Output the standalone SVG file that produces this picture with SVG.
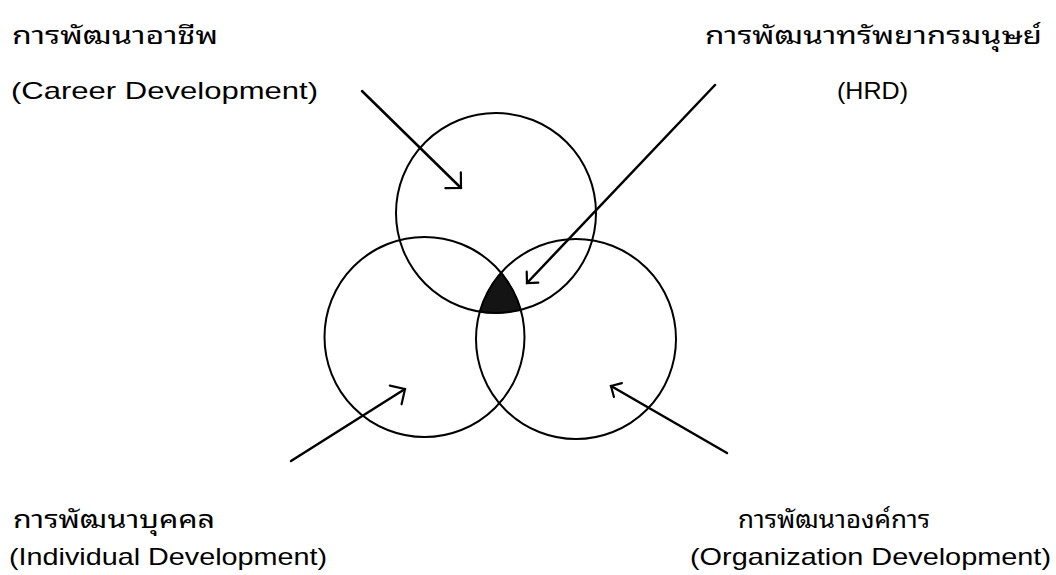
<svg xmlns="http://www.w3.org/2000/svg" width="1056" height="575" viewBox="0 0 1056 575">
  <style>
    .circle { fill: none; stroke: #000; stroke-width: 2; }
    .conn { stroke: #000; stroke-width: 2.5; fill: none; stroke-linecap: round; }
    .th { font-family: "Liberation Sans", "Noto Sans Thai Looped", "Loma", "Garuda", "Noto Sans Thai", "Noto Sans", sans-serif; font-size: 24px; fill: #000; }
    .en { font-family: "Liberation Sans", Arial, sans-serif; font-size: 24px; fill: #000; }
  </style>
  <defs>
    <marker id="headBig" markerUnits="userSpaceOnUse" viewBox="-14 -14 16 28" refX="0" refY="0" markerWidth="16" markerHeight="28" orient="auto" overflow="visible">
      <path d="M-11,-11 L0,0 L-11,11" fill="none" stroke="#000" stroke-width="2.2" stroke-linecap="round" stroke-linejoin="miter"/>
    </marker>
    <marker id="headSmall" markerUnits="userSpaceOnUse" viewBox="-12 -12 14 24" refX="0" refY="0" markerWidth="14" markerHeight="24" orient="auto" overflow="visible">
      <path d="M-8,-8 L0,0 L-8,8" fill="none" stroke="#000" stroke-width="2.2" stroke-linecap="round" stroke-linejoin="miter"/>
    </marker>
  </defs>
  <rect width="1056" height="575" fill="#fff"/>

  <g id="hrd-core">
    <path d="M501.1,272.7 A100,100 0 0 1 520.8,309.9 A100,100 0 0 1 479.8,311.7 A100,100 0 0 1 501.1,272.7 Z" fill="#141414" stroke="#000" stroke-width="1"/>
  </g>
  <g id="career-circle">
    <circle class="circle" cx="496" cy="213" r="100"/>
  </g>
  <g id="individual-circle">
    <circle class="circle" cx="424.5" cy="337" r="100"/>
  </g>
  <g id="organization-circle">
    <circle class="circle" cx="576" cy="339" r="100"/>
  </g>

  <g id="connectors">
    <line class="conn" x1="362" y1="91" x2="461" y2="188" marker-end="url(#headBig)"/>
    <line class="conn" x1="715" y1="85" x2="527" y2="283" marker-end="url(#headSmall)"/>
    <line class="conn" x1="291" y1="461" x2="405" y2="389" marker-end="url(#headBig)"/>
    <line class="conn" x1="727" y1="453" x2="611" y2="386" marker-end="url(#headSmall)"/>
  </g>

  <g id="label-career">
    <text class="th" x="12" y="44" textLength="206" lengthAdjust="spacingAndGlyphs">การพัฒนาอาชีพ</text>
    <text class="en" x="11" y="99" textLength="307" lengthAdjust="spacingAndGlyphs">(Career Development)</text>
  </g>
  <g id="label-hrd">
    <text class="th" x="705" y="44" textLength="337" lengthAdjust="spacingAndGlyphs">การพัฒนาทรัพยากรมนุษย์</text>
    <text class="en" x="837" y="99" textLength="71" lengthAdjust="spacingAndGlyphs">(HRD)</text>
  </g>
  <g id="label-individual">
    <text class="th" x="13" y="528" textLength="202" lengthAdjust="spacingAndGlyphs">การพัฒนาบุคคล</text>
    <text class="en" x="9" y="565" textLength="318" lengthAdjust="spacingAndGlyphs">(Individual Development)</text>
  </g>
  <g id="label-organization">
    <text class="th" x="738" y="528" textLength="192" lengthAdjust="spacingAndGlyphs">การพัฒนาองค์การ</text>
    <text class="en" x="690" y="565" textLength="361" lengthAdjust="spacingAndGlyphs">(Organization Development)</text>
  </g>
</svg>
